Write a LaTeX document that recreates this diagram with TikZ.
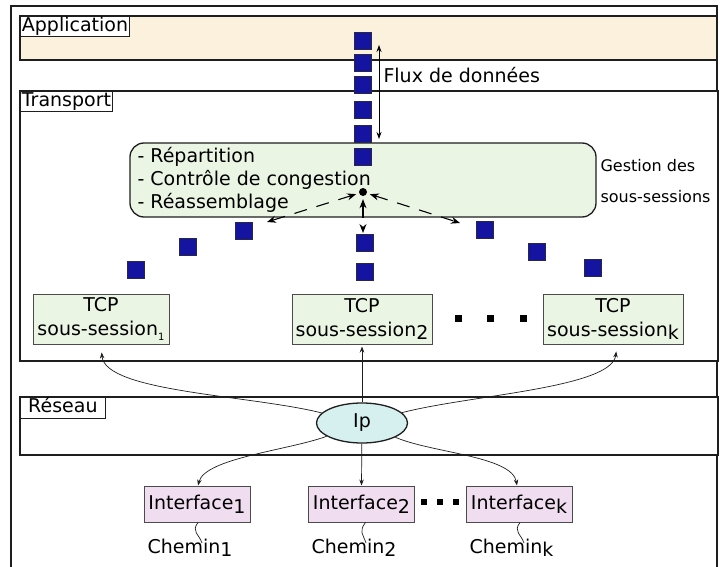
\documentclass[tikz,border=0pt]{standalone}
\usepackage{fontspec}
\setmainfont{DejaVu Sans}
\usetikzlibrary{arrows.meta,shapes.geometric,calc}
\definecolor{appfill}{RGB}{252,241,220}
\definecolor{grfill}{RGB}{234,245,228}
\definecolor{ipfill}{RGB}{214,240,240}
\definecolor{iffill}{RGB}{240,222,240}
\definecolor{pktfill}{RGB}{20,20,160}
\definecolor{pktedge}{RGB}{40,40,70}
\definecolor{edge}{RGB}{30,30,30}
\newcommand\lsub[1]{\raisebox{-0.35ex}{#1}}
\newcommand\ssub[1]{\raisebox{-0.45ex}{\fontsize{10}{10}\selectfont #1}}
\tikzset{
  layer/.style={draw=edge, line width=1.6pt, inner sep=0pt},
  layerlabel/.style={draw=edge, line width=0.8pt, fill=white, anchor=north west,
    inner xsep=1.5pt, inner ysep=1pt, text height=14pt, text depth=4.5pt},
  gestion/.style={draw=edge, line width=1.3pt, fill=grfill, rounded corners=14pt,
    minimum width=466pt, minimum height=74pt, inner sep=0pt},
  tcpbox/.style={draw=edge!80, line width=1pt, fill=grfill, minimum width=138pt,
    minimum height=50pt, inner sep=0pt, align=center, font=\fontsize{19}{24}\selectfont},
  ifbox/.style={draw=edge!80, line width=1pt, fill=iffill, minimum width=106pt,
    minimum height=36pt, inner sep=0pt},
  ipnode/.style={ellipse, draw=edge, line width=1.3pt, fill=ipfill, minimum width=91pt,
    minimum height=40pt, inner sep=0pt},
  pkt/.style={draw=pktedge, line width=0.8pt, fill=pktfill, minimum size=17pt, inner sep=0pt},
  dotsq/.style={fill=black, minimum size=7pt, inner sep=0pt},
  dotsm/.style={fill=black, minimum size=6pt, inner sep=0pt},
  conn/.style={draw=edge, line width=0.7pt, -{Stealth[length=6pt,width=4.5pt]}},
  dasharrow/.style={draw=black, line width=1.1pt, dash pattern=on 13pt off 10pt,
    {Stealth[length=9pt,width=7pt]}-{Stealth[length=9pt,width=7pt]}, shorten <=3pt},
  flux/.style={draw=black, line width=0.8pt, {Stealth[length=7pt,width=5pt]}-{Stealth[length=7pt,width=5pt]}},
}
\begin{document}
\begin{tikzpicture}[x=1pt,y=-1pt, font=\fontsize{19}{22}\selectfont]
\useasboundingbox (0,0) rectangle (720,567);
% outer frame
\draw[draw=edge, line width=1.4pt] (11,590) -- (11,6) -- (717,6) -- (717,590);

% layers
\node[layer, fill=appfill, minimum width=697pt, minimum height=44pt] (app) at (368.5,38) {};
\node[layerlabel] (applbl) at (20,16) {Application};
\node[layer, fill=white, minimum width=698pt, minimum height=270pt] (trans) at (369,226) {};
\node[layerlabel] (translbl) at (20,91) {Transport};
\node[layer, fill=white, minimum width=698pt, minimum height=58pt] (res) at (369,426) {};
\node[layerlabel, minimum width=85pt, align=left] (reslbl) at (20,397) {Réseau\hfill};

% gestion box
\node[gestion] (gest) at (363,180) {};
\node[anchor=west, align=left, font=\fontsize{19}{23}\selectfont] (gtxt) at (134,180)
  {- Répartition\\- Contrôle de congestion\\- Réassemblage};
\node[anchor=west, align=left, font=\fontsize{16}{31}\selectfont] (gside) at (597,181)
  {Gestion des\\sous-sessions};

% TCP sub-sessions
\node[tcpbox, minimum width=136pt] (t1) at (101,319) {TCP\\sous-session\ssub{1}};
\node[tcpbox, minimum width=140pt] (t2) at (362,319) {TCP\\sous-session\lsub{2}};
\node[tcpbox, minimum width=140pt] (tk) at (613,319) {TCP\\sous-session\lsub{k}};
\node[dotsq] (d1) at (458,318) {};
\node[dotsq] (d2) at (490,318) {};
\node[dotsq] (d3) at (523,318) {};

% packets
\foreach \px/\py [count=\i] in {363/41,363/63,363/85,363/110,363/134,363/157,
    365/243,365/272,244/231,188/247,136/270,485/230,537/252,593/268}
  \node[pkt] (pk\i) at (\px,\py) {};

% flux
\coordinate (fa) at (379,45);
\coordinate (fb) at (379,139);
\draw[flux] (fa) -- (fb);
\node[anchor=west] (fluxlbl) at (380,75) {Flux de données};

% distribution point
\node[circle, fill=black, inner sep=0pt, minimum size=8pt] (dot) at (363,192) {};
\coordinate (dl) at (267,222);
\coordinate (dv) at (363,233);
\coordinate (dr) at (460,223);
\draw[dasharrow] (dot) -- (dl);
\draw[dasharrow] (dot) -- (dv);
\draw[dasharrow] (dot) -- (dr);

% IP
\node[ipnode] (ip) at (362,423) {Ip};
\draw[conn, shorten >=8pt] (ip) .. controls (250,395) and (105,392) .. (t1.south);
\draw[conn, shorten >=2pt] (ip) -- (t2.south);
\draw[conn, shorten >=7pt] (ip) .. controls (470,395) and (612,388) .. ($(tk.south)+(4,0)$);

% interfaces
\node[ifbox] (i1) at (197,504) {Interface\lsub{1}};
\node[ifbox] (i2) at (361.5,504) {Interface\lsub{2}};
\node[ifbox] (ik) at (519,504) {Interface\lsub{k}};
\node[dotsm] (e1) at (424,502) {};
\node[dotsm] (e2) at (440,502) {};
\node[dotsm] (e3) at (456,502) {};
\draw[conn] (ip) .. controls (290,450) and (205,458) .. ($(i1.north)+(1,0)$);
\draw[conn] (ip) -- (i2.north);
\draw[conn] (ip) .. controls (432,453) and (512,456) .. ($(ik.north)+(-2,0)$);

% paths
\coordinate (c1) at (202,543);
\coordinate (c2) at (366,543);
\coordinate (c3) at (524,543);
\draw[draw=edge, line width=0.7pt] ($(i1.south)+(1,0)$) .. controls +(-7,9) and +(-3,-9) .. (c1);
\draw[draw=edge, line width=0.7pt] ($(i2.south)+(4,0)$) .. controls +(-7,9) and +(-3,-9) .. (c2);
\draw[draw=edge, line width=0.7pt] ($(ik.south)+(1,0)$) .. controls +(-7,9) and +(-3,-9) .. (c3);
\node[anchor=base west] (ch1) at (144,553) {Chemin\lsub{1}};
\node[anchor=base west] (ch2) at (308,553) {Chemin\lsub{2}};
\node[anchor=base west] (chk) at (466,553) {Chemin\lsub{k}};
\end{tikzpicture}
\end{document}
